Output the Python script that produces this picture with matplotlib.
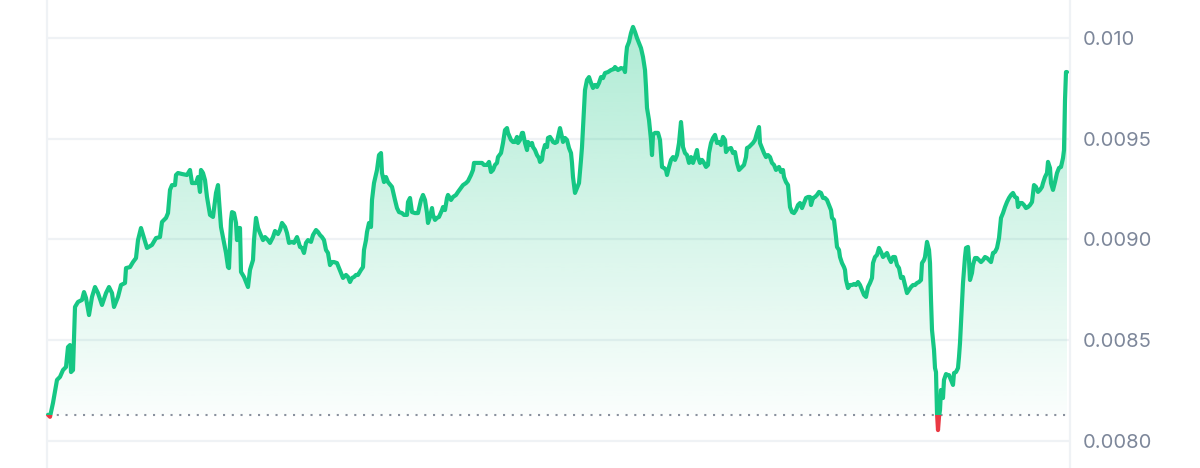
import numpy as np
import matplotlib
matplotlib.use('agg')
from matplotlib import pyplot as plt
from matplotlib.patches import Rectangle
from matplotlib.colors import to_rgb

# sample index (24h window) and price in millionths of a dollar
t = [0, 2, 5, 9, 12, 15, 18, 20, 22, 23, 25, 27, 30, 34, 36, 38, 41, 44, 47, 50,
     54, 58, 61, 64, 66, 70, 73, 77, 78, 82, 85, 88, 90, 93, 96, 99, 104, 108, 112, 114,
     118, 120, 122, 124, 127, 128, 130, 134, 139, 142, 144, 148, 150, 152, 153, 155, 157, 159, 162, 165,
     168, 170, 171, 173, 176, 178, 180, 181, 183, 184, 186, 188, 189, 191, 192, 193, 196, 198, 200, 202,
     205, 206, 208, 210, 212, 215, 217, 220, 222, 225, 227, 230, 232, 234, 237, 239, 241, 244, 246, 249,
     250, 252, 254, 256, 258, 260, 263, 265, 268, 270, 272, 274, 276, 278, 280, 282, 284, 286, 289, 291,
     293, 295, 298, 300, 302, 304, 306, 308, 310, 313, 315, 316, 318, 319, 321, 323, 324, 326, 329, 331,
     333, 334, 336, 338, 340, 344, 347, 349, 351, 354, 356, 359, 360, 362, 364, 367, 370, 373, 375, 377,
     379, 380, 382, 384, 385, 387, 389, 391, 394, 395, 397, 399, 400, 403, 405, 408, 410, 413, 415, 418,
     420, 423, 425, 426, 429, 431, 434, 436, 439, 441, 443, 445, 447, 449, 450, 453, 455, 457, 459, 460,
     463, 465, 467, 469, 470, 472, 474, 475, 477, 479, 480, 482, 484, 485, 487, 489, 491, 492, 494, 495,
     497, 499, 500, 502, 504, 505, 507, 509, 510, 512, 514, 515, 517, 519, 521, 523, 524, 525, 527, 529,
     531, 533, 534, 536, 537, 539, 541, 543, 545, 547, 549, 551, 553, 555, 557, 560, 563, 566, 567, 570,
     573, 576, 577, 578, 579, 581, 583, 585, 587, 589, 591, 593, 595, 597, 598, 599, 601, 603, 604, 605,
     607, 610, 612, 613, 614, 616, 618, 619, 621, 623, 625, 627, 629, 631, 632, 633, 634, 635, 637, 639,
     641, 643, 645, 647, 649, 650, 652, 654, 656, 658, 660, 661, 663, 665, 667, 669, 671, 673, 675, 677,
     678, 680, 683, 685, 687, 689, 691, 694, 696, 698, 699, 701, 703, 705, 707, 709, 711, 712, 714, 716,
     718, 720, 722, 724, 726, 728, 730, 731, 733, 735, 736, 738, 740, 742, 744, 746, 748, 750, 752, 754,
     756, 758, 760, 762, 763, 765, 767, 769, 771, 773, 775, 777, 779, 781, 783, 784, 786, 788, 789, 791,
     792, 794, 796, 797, 798, 800, 802, 804, 806, 808, 810, 812, 814, 816, 818, 820, 822, 824, 825, 827,
     829, 831, 833, 835, 837, 839, 841, 843, 845, 847, 849, 851, 853, 855, 857, 859, 861, 863, 865, 867,
     869, 871, 873, 874, 876, 877, 879, 881, 882, 883, 884, 886, 887, 888, 889, 890, 891, 892, 893, 895,
     896, 898, 900, 901, 903, 905, 906, 908, 910, 911, 912, 913, 914, 915, 917, 918, 920, 921, 922, 924,
     925, 927, 929, 931, 933, 935, 937, 939, 941, 943, 945, 947, 949, 951, 953, 955, 957, 959, 961, 963,
     965, 967, 969, 970, 972, 974, 976, 978, 980, 982, 984, 986, 988, 990, 992, 994, 995, 997, 999, 1000,
     1002, 1003, 1005, 1007, 1009, 1011, 1013, 1015, 1016, 1017, 1018, 1019]

price_e6 = [8130, 8120, 8189, 8303, 8318, 8352, 8367, 8466, 8476, 8342, 8352, 8665, 8690, 8700, 8739, 8710, 8625, 8715, 8764, 8734,
            8675, 8734, 8764, 8734, 8665, 8715, 8774, 8784, 8858, 8863, 8888, 8908, 8997, 9057, 9007, 8958, 8973, 9007, 9012, 9087,
            9107, 9131, 9246, 9270, 9270, 9320, 9330, 9325, 9320, 9345, 9280, 9280, 9310, 9236, 9345, 9330, 9295, 9211, 9122, 9112,
            9231, 9270, 9196, 9062, 8983, 8933, 8863, 8858, 9097, 9136, 9131, 9082, 8997, 9057, 9057, 8839, 8814, 8789, 8764, 8849,
            8898, 8997, 9107, 9057, 9032, 8997, 9012, 8997, 8983, 9012, 9042, 9027, 9047, 9082, 9062, 9032, 8983, 8988, 8983, 9012,
            8997, 8963, 8958, 8933, 8983, 8997, 8988, 9022, 9047, 9037, 9022, 9012, 8997, 8948, 8933, 8873, 8888, 8888, 8883, 8858,
            8834, 8809, 8824, 8814, 8789, 8809, 8814, 8824, 8824, 8849, 8863, 8948, 8997, 9037, 9082, 9062, 9196, 9280, 9345, 9419,
            9429, 9330, 9285, 9310, 9285, 9261, 9196, 9156, 9136, 9131, 9122, 9122, 9186, 9206, 9136, 9131, 9131, 9196, 9221, 9196,
            9131, 9082, 9112, 9156, 9122, 9097, 9107, 9112, 9146, 9161, 9146, 9206, 9221, 9196, 9211, 9221, 9236, 9256, 9270, 9280,
            9290, 9320, 9345, 9380, 9380, 9380, 9380, 9370, 9370, 9385, 9335, 9345, 9370, 9380, 9409, 9429, 9479, 9543, 9553, 9529,
            9494, 9484, 9484, 9509, 9479, 9494, 9529, 9529, 9479, 9444, 9484, 9469, 9479, 9459, 9444, 9419, 9404, 9385, 9395, 9434,
            9469, 9459, 9504, 9509, 9494, 9484, 9479, 9484, 9509, 9553, 9509, 9484, 9504, 9494, 9454, 9429, 9380, 9310, 9231, 9256,
            9280, 9395, 9459, 9643, 9742, 9792, 9806, 9777, 9752, 9767, 9757, 9777, 9806, 9801, 9826, 9831, 9841, 9846, 9856, 9841,
            9851, 9846, 9831, 9906, 9955, 9980, 10025, 10055, 10030, 10000, 9975, 9950, 9906, 9841, 9757, 9653, 9593, 9494, 9419, 9519,
            9529, 9529, 9494, 9429, 9360, 9355, 9345, 9320, 9360, 9395, 9409, 9395, 9419, 9479, 9529, 9583, 9529, 9459, 9429, 9419,
            9380, 9409, 9380, 9409, 9444, 9409, 9380, 9395, 9380, 9360, 9370, 9429, 9479, 9504, 9519, 9479, 9484, 9469, 9509, 9494,
            9434, 9449, 9454, 9429, 9434, 9380, 9345, 9360, 9370, 9409, 9454, 9459, 9469, 9479, 9494, 9529, 9558, 9479, 9454, 9429,
            9409, 9419, 9409, 9380, 9370, 9345, 9355, 9360, 9335, 9345, 9310, 9285, 9270, 9161, 9136, 9131, 9146, 9171, 9181, 9156,
            9181, 9206, 9211, 9211, 9171, 9206, 9211, 9221, 9236, 9231, 9206, 9206, 9196, 9171, 9146, 9107, 9097, 9012, 8963, 8948,
            8913, 8883, 8863, 8849, 8799, 8759, 8774, 8774, 8779, 8774, 8789, 8774, 8749, 8725, 8715, 8764, 8784, 8809, 8883, 8913,
            8923, 8958, 8938, 8913, 8923, 8933, 8908, 8888, 8913, 8913, 8873, 8858, 8809, 8814, 8774, 8734, 8749, 8764, 8774, 8774,
            8784, 8789, 8799, 8883, 8898, 8913, 8988, 8948, 8883, 8700, 8551, 8452, 8362, 8342, 8139, 8054, 8119, 8154, 8253, 8213,
            8303, 8332, 8327, 8327, 8303, 8278, 8337, 8342, 8362, 8417, 8486, 8586, 8685, 8784, 8913, 8958, 8963, 8898, 8799, 8834,
            8873, 8908, 8908, 8898, 8888, 8898, 8913, 8908, 8898, 8888, 8933, 8938, 8958, 9007, 9107, 9131, 9161, 9186, 9206, 9221,
            9231, 9211, 9206, 9161, 9181, 9181, 9171, 9156, 9161, 9171, 9186, 9270, 9261, 9236, 9246, 9261, 9280, 9310, 9330, 9385,
            9355, 9280, 9246, 9285, 9330, 9355, 9360, 9404, 9444, 9692, 9831, 9831]

tick_values = [0.0080, 0.0085, 0.0090, 0.0095, 0.0100]
tick_labels = ['0.0080', '0.0085', '0.0090', '0.0095', '0.010']

green = '#16c784'
red = '#ea3943'
grid_color = '#eff2f5'
text_color = '#7d879a'

plt.rcParams['font.family'] = ['Inter', 'DejaVu Sans']

x = np.array(t, dtype=float)
y = np.array(price_e6) * 1e-6
base = y[0]  # reference price at start of window

fig = plt.figure(figsize=(12, 4.68), dpi=100)
ax = fig.add_axes([47 / 1200, 0, 1023 / 1200, 1])

# gradient area between the price and the opening price
area = ax.fill_between(x, base, np.maximum(y, base), facecolor='none', edgecolor='none')
n = 256
grad = np.zeros((n, 1, 4))
grad[..., :3] = to_rgb(green)
grad[:, 0, 3] = np.linspace(0.34, 0.02, n)
im = ax.imshow(grad, aspect='auto', origin='upper', interpolation='bilinear',
               extent=[x[0], x[-1], base, y.max()], zorder=1)
im.set_clip_path(area.get_paths()[0], ax.transData)

# dotted line at opening price
ax.plot([x[0], x[-1]], [base, base], color='#8a919e', lw=1.5,
        linestyle=(0, (1, 3.2)), zorder=2)

# price line: green above the opening price, red below
for color, y0 in [(green, base), (red, base - 1)]:
    line, = ax.plot(x, y, color=color, lw=3.0, solid_capstyle='round',
                    solid_joinstyle='round', zorder=3)
    line.set_clip_path(Rectangle((-50, y0), 1200, 1, transform=ax.transData))

ax.set_xlim(-1, 1022)
ax.set_ylim(0.0078658, 0.0101886)
ax.set_xticks([])
ax.set_yticks(tick_values, tick_labels)
ax.yaxis.tick_right()
ax.tick_params(axis='y', length=0, pad=9, labelsize=14.5, labelcolor=text_color)
ax.grid(axis='y', color=grid_color, lw=1.6)
ax.set_axisbelow(True)

for side in ['top', 'bottom']:
    ax.spines[side].set_visible(False)
for side in ['left', 'right']:
    ax.spines[side].set_color(grid_color)
    ax.spines[side].set_linewidth(1.6)

fig.savefig('out.png', dpi=100)
